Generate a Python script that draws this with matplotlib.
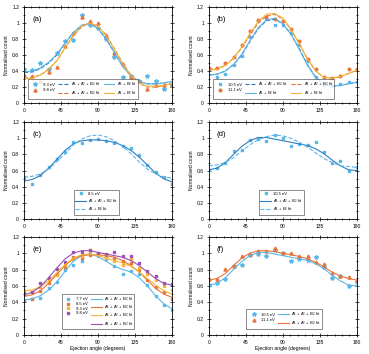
import matplotlib
matplotlib.use("Agg")
import matplotlib.pyplot as plt
from matplotlib.ticker import MultipleLocator, FormatStrFormatter

plt.rcParams['font.family'] = ['Liberation Sans', 'DejaVu Sans']
plt.rcParams['mathtext.fontset'] = 'custom'
plt.rcParams['mathtext.rm'] = 'Liberation Sans'

angles = [0, 10, 20, 30, 40, 50, 60, 70, 80, 90, 100, 110, 120, 130, 140, 150, 160, 170, 180]
x_ticks = [0, 45, 90, 135, 180]
y_ticks = [0, 0.2, 0.4, 0.6, 0.8, 1.0, 1.2]

# ---- panel (a)
a_93_data = [0.43, 0.41, 0.50, 0.43, 0.62, 0.78, 0.79, 1.10, 0.98, 0.94, 0.80, 0.57, 0.32, 0.34, 0.27, 0.34, 0.28, 0.18, 0.22]
a_98_data = [0.35, 0.34, 0.28, 0.39, 0.45, 0.71, 0.88, 1.07, 1.02, 1.00, 0.85, 0.62, 0.49, 0.33, 0.27, 0.18, 0.23, 0.22, 0.23]
a_93_fit3 = [0.38, 0.39, 0.43, 0.50, 0.60, 0.75, 0.88, 0.97, 1.00, 0.93, 0.80, 0.63, 0.46, 0.34, 0.27, 0.24, 0.24, 0.25, 0.27]
a_93_fit2 = [0.39, 0.40, 0.44, 0.51, 0.61, 0.75, 0.88, 0.97, 0.99, 0.93, 0.80, 0.63, 0.46, 0.34, 0.27, 0.24, 0.24, 0.25, 0.27]
a_98_fit3 = [0.31, 0.32, 0.35, 0.42, 0.53, 0.69, 0.84, 0.95, 1.00, 0.96, 0.85, 0.68, 0.50, 0.35, 0.25, 0.20, 0.20, 0.22, 0.25]
a_98_fit2 = [0.30, 0.31, 0.35, 0.42, 0.53, 0.69, 0.85, 0.96, 1.00, 0.96, 0.84, 0.67, 0.49, 0.34, 0.25, 0.21, 0.21, 0.22, 0.24]

# ---- panel (b)
b_105_data = [0.42, 0.33, 0.36, 0.47, 0.59, 0.83, 1.03, 1.05, 0.98, 0.98, 0.87, 0.72, 0.52, 0.33, 0.23, 0.21, 0.24, 0.26, 0.26]
b_111_data = [0.44, 0.44, 0.50, 0.58, 0.73, 0.90, 1.04, 1.08, 1.05, 1.02, 0.93, 0.78, 0.55, 0.42, 0.32, 0.31, 0.34, 0.42, 0.43]
b_105_fit3 = [0.35, 0.36, 0.40, 0.48, 0.60, 0.77, 0.93, 1.03, 1.05, 0.99, 0.86, 0.68, 0.48, 0.32, 0.23, 0.21, 0.22, 0.24, 0.26]
b_105_fit2 = [0.35, 0.36, 0.40, 0.48, 0.61, 0.78, 0.94, 1.04, 1.06, 0.99, 0.86, 0.67, 0.47, 0.32, 0.23, 0.21, 0.22, 0.24, 0.26]
b_111_fit3 = [0.42, 0.43, 0.47, 0.56, 0.69, 0.85, 1.00, 1.09, 1.11, 1.05, 0.92, 0.74, 0.55, 0.40, 0.32, 0.31, 0.33, 0.37, 0.41]
b_111_fit2 = [0.41, 0.42, 0.47, 0.56, 0.70, 0.87, 1.02, 1.11, 1.12, 1.06, 0.92, 0.74, 0.55, 0.40, 0.32, 0.31, 0.33, 0.37, 0.41]

# ---- panel (c) 8.5 eV
c_85_data = [0.52, 0.44, 0.54, 0.64, 0.75, 0.83, 0.95, 0.94, 0.98, 0.99, 0.97, 0.94, 0.91, 0.88, 0.79, 0.67, 0.58, 0.52, 0.44]
c_85_fit3 = [0.47, 0.49, 0.54, 0.63, 0.74, 0.85, 0.93, 0.97, 0.98, 0.98, 0.97, 0.95, 0.91, 0.85, 0.77, 0.67, 0.57, 0.50, 0.46]
c_85_fit2 = [0.52, 0.53, 0.56, 0.62, 0.71, 0.81, 0.92, 0.99, 1.03, 1.04, 1.02, 0.97, 0.90, 0.81, 0.71, 0.62, 0.56, 0.52, 0.51]

# ---- panel (d) 10.5 eV
d_105_data = [0.61, 0.63, 0.69, 0.84, 0.85, 0.98, 0.99, 0.97, 1.04, 1.00, 0.90, 0.93, 0.92, 0.95, 0.83, 0.70, 0.72, 0.60, 0.65]
d_105_fit3 = [0.61, 0.63, 0.70, 0.80, 0.90, 0.97, 1.01, 1.01, 0.99, 0.97, 0.95, 0.93, 0.91, 0.87, 0.81, 0.73, 0.66, 0.61, 0.60]
d_105_fit2 = [0.66, 0.67, 0.70, 0.76, 0.84, 0.92, 0.98, 1.02, 1.04, 1.03, 1.00, 0.95, 0.89, 0.82, 0.75, 0.70, 0.66, 0.65, 0.64]

# ---- panel (e)
e_77_data = [0.43, 0.44, 0.45, 0.57, 0.65, 0.80, 0.85, 0.90, 1.00, 0.99, 0.93, 0.84, 0.75, 0.78, 0.74, 0.61, 0.47, 0.37, 0.31]
e_77_fit3 = [0.43, 0.44, 0.48, 0.55, 0.65, 0.78, 0.90, 0.97, 0.99, 0.96, 0.90, 0.84, 0.80, 0.77, 0.70, 0.60, 0.48, 0.38, 0.32]
e_85_data = c_85_data
e_85_fit3 = c_85_fit3
e_93_data = [0.55, 0.52, 0.58, 0.66, 0.73, 0.85, 0.93, 0.97, 1.00, 0.97, 0.94, 0.90, 0.86, 0.93, 0.82, 0.75, 0.67, 0.60, 0.55]
e_93_fit3 = [0.54, 0.55, 0.59, 0.66, 0.76, 0.86, 0.94, 0.98, 0.99, 0.97, 0.94, 0.91, 0.88, 0.84, 0.77, 0.69, 0.61, 0.54, 0.50]
e_98_data = [0.50, 0.52, 0.63, 0.70, 0.81, 0.89, 1.02, 1.02, 1.04, 1.00, 0.99, 1.02, 0.96, 0.97, 0.88, 0.78, 0.72, 0.64, 0.62]
e_98_fit3 = [0.49, 0.52, 0.59, 0.70, 0.82, 0.93, 1.00, 1.03, 1.03, 1.01, 0.99, 0.97, 0.95, 0.91, 0.85, 0.77, 0.69, 0.63, 0.61]

# ---- panel (f)
f_105_data = d_105_data
f_105_fit3 = d_105_fit3
f_111_data = [0.68, 0.69, 0.81, 0.84, 0.96, 0.99, 1.03, 1.03, 1.06, 1.00, 1.00, 0.97, 0.96, 0.89, 0.87, 0.76, 0.72, 0.71, 0.67]
f_111_fit3 = [0.67, 0.69, 0.75, 0.85, 0.94, 1.00, 1.03, 1.03, 1.02, 1.00, 0.98, 0.96, 0.93, 0.89, 0.83, 0.77, 0.72, 0.69, 0.67]

FIT3 = r'A$_1$ + A$_2$ + B$_2$ fit'
FIT2 = r'A$_1$ + B$_2$ fit'

BLUE = '#2e7ebf'
LBLUE = '#5cb6e8'
ORANGE = '#e8743b'
YELLOW = '#f5b436'
PURPLE = '#9b50b2'

fig = plt.figure(figsize=(3.69, 3.54), dpi=100)
W = 0.401
lefts = [0.065, 0.566]
rows = [(0.709, 0.271), (0.381, 0.274), (0.054, 0.277)]
axes = []
for r in range(3):
    for c in range(2):
        axes.append(fig.add_axes([lefts[c], rows[r][0], W, rows[r][1]]))

FS = 3.6
LW = 0.8
MS = 2.2

def style(ax, label, xlabel=False):
    ax.set_xlim(0, 180)
    ax.set_ylim(0, 1.2)
    ax.set_xticks(x_ticks)
    ax.set_yticks(y_ticks)
    ax.xaxis.set_minor_locator(MultipleLocator(9))
    ax.yaxis.set_minor_locator(MultipleLocator(0.1))
    ax.yaxis.set_major_formatter(FormatStrFormatter('%g'))
    ax.tick_params(which='both', direction='inout', top=True, right=True, labelsize=FS, pad=2, width=0.5)
    ax.tick_params(which='major', length=3)
    ax.tick_params(which='minor', length=1.8)
    for s in ax.spines.values():
        s.set_linewidth(0.6)
    ax.set_ylabel('Normalised count', fontsize=FS, labelpad=2)
    if xlabel:
        ax.set_xlabel('Ejection angle (degrees)', fontsize=FS, labelpad=1)
    ax.text(0.055, 0.86, label, transform=ax.transAxes, fontsize=5.5)

def leg(ax, **kw):
    opts = dict(fontsize=3.0, frameon=True, fancybox=False, edgecolor='#333333',
                handlelength=2.6, handletextpad=0.5, borderpad=0.4, labelspacing=0.3,
                columnspacing=0.8)
    opts.update(kw)
    L = ax.legend(**opts)
    L.get_frame().set_linewidth(0.5)
    return L

# (a)
ax = axes[0]
ax.plot(angles, a_93_data, ls='none', marker='*', ms=MS + 0.8, color=LBLUE, label='9.3 eV')
ax.plot(angles, a_98_data, ls='none', marker='^', ms=MS, color=ORANGE, label='9.8 eV')
ax.plot(angles, a_93_fit3, ls='--', lw=LW, color=BLUE, label=FIT3)
ax.plot(angles, a_98_fit3, ls='--', lw=LW, color=ORANGE, label=FIT3)
ax.plot(angles, a_93_fit2, ls='-', lw=LW, color=LBLUE, label=FIT2)
ax.plot(angles, a_98_fit2, ls='-', lw=LW, color=YELLOW, label=FIT2)
style(ax, '(a)')
leg(ax, loc='lower left', ncol=3, bbox_to_anchor=(0.015, 0.02))

# (b)
ax = axes[1]
ax.plot(angles, b_105_data, ls='none', marker='s', ms=MS - 0.3, color=LBLUE, label='10.5 eV')
ax.plot(angles, b_111_data, ls='none', marker='o', ms=MS - 0.3, color=ORANGE, label='11.1 eV')
ax.plot(angles, b_105_fit3, ls='--', lw=LW, color=BLUE, label=FIT3)
ax.plot(angles, b_105_fit2, ls='-', lw=LW, color=LBLUE, label=FIT2)
ax.plot(angles, b_111_fit3, ls='--', lw=LW, color=ORANGE, label=FIT3)
ax.plot(angles, b_111_fit2, ls='-', lw=LW, color=YELLOW, label=FIT2)
style(ax, '(b)')
leg(ax, loc='lower left', ncol=3, bbox_to_anchor=(0.015, 0.02))

# (c)
ax = axes[2]
ax.plot(angles, c_85_data, ls='none', marker='s', ms=MS - 0.4, color=LBLUE, label='8.5 eV')
ax.plot(angles, c_85_fit3, ls='-', lw=LW, color=BLUE, label=FIT3)
ax.plot(angles, c_85_fit2, ls='--', lw=LW, color=LBLUE, label=FIT2)
style(ax, '(c)')
leg(ax, loc='lower center', bbox_to_anchor=(0.49, 0.02))

# (d)
ax = axes[3]
ax.plot(angles, d_105_data, ls='none', marker='s', ms=MS - 0.4, color=LBLUE, label='10.5 eV')
ax.plot(angles, d_105_fit3, ls='-', lw=LW, color=BLUE, label=FIT3)
ax.plot(angles, d_105_fit2, ls='--', lw=LW, color=LBLUE, label=FIT2)
style(ax, '(d)')
leg(ax, loc='lower center', bbox_to_anchor=(0.49, 0.02))

# (e)
ax = axes[4]
e_sets = [(e_77_data, e_77_fit3, LBLUE, '7.7 eV'),
          (e_85_data, e_85_fit3, ORANGE, '8.5 eV'),
          (e_93_data, e_93_fit3, YELLOW, '9.3 eV'),
          (e_98_data, e_98_fit3, PURPLE, '9.8 eV')]
for data, fit, col, lab in e_sets:
    ax.plot(angles, data, ls='none', marker='s', ms=MS - 0.4, color=col, label=lab)
for data, fit, col, lab in e_sets:
    ax.plot(angles, fit, ls='-', lw=LW, color=col, label=FIT3)
style(ax, '(e)', xlabel=True)
leg(ax, loc='lower center', ncol=2, bbox_to_anchor=(0.5, 0.04), labelspacing=0.15, borderpad=0.3)

# (f)
ax = axes[5]
ax.plot(angles, f_105_data, ls='none', marker='*', ms=MS + 0.8, color=LBLUE, label='10.5 eV')
ax.plot(angles, f_111_data, ls='none', marker='^', ms=MS, color=ORANGE, label='11.1 eV')
ax.plot(angles, f_105_fit3, ls='-', lw=LW, color=LBLUE, label=FIT3)
ax.plot(angles, f_111_fit3, ls='-', lw=LW, color=ORANGE, label=FIT3)
style(ax, '(f)', xlabel=True)
leg(ax, loc='lower center', ncol=2, bbox_to_anchor=(0.51, 0.04))

fig.savefig('out.png', dpi=100)
